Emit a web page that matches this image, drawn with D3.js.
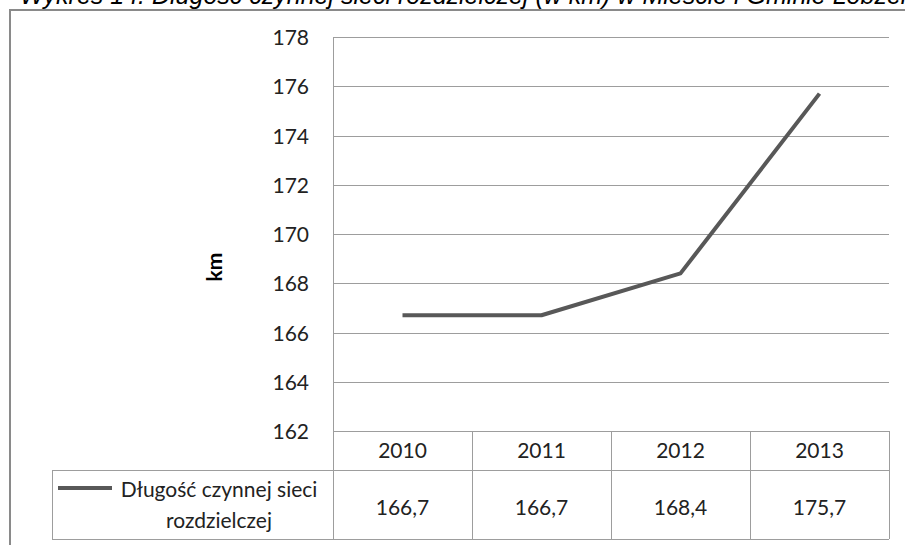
<!DOCTYPE html>
<html>
<head>
<meta charset="utf-8">
<script src="https://cdn.jsdelivr.net/npm/d3@7"></script>
<style>
  html, body { margin: 0; padding: 0; background: #fff; }
  svg { display: block; }
</style>
</head>
<body>
<svg id="chart" width="905" height="545"></svg>
<script>
const titleText = "Wykres 14. Długość czynnej sieci rozdzielczej (w km) w Mieście i Gminie Łobżenica";
const years = ["2010", "2011", "2012", "2013"];
const values = [166.7, 166.7, 168.4, 175.7];
const valueLabels = ["166,7", "166,7", "168,4", "175,7"];
const yTicks = [162, 164, 166, 168, 170, 172, 174, 176, 178];
const seriesName = ["Długość czynnej sieci", "rozdzielczej"];
const yTitle = "km";

const svg = d3.select("#chart");
const FONT = "Lato, 'Open Sans', sans-serif";
const gridColor = "#9d9d9d";
const lineColor = "#585858";

const plotLeft = 333, plotRight = 889, plotTop = 37, plotBottom = 431;
const headerBottom = 470, tableBottom = 539, legendLeft = 52;

const x = d3.scaleBand().domain(years).range([plotLeft, plotRight]);
const y = d3.scaleLinear().domain([162, 178]).range([plotBottom, plotTop]);

// outer frame (partially visible)
svg.append("path")
  .attr("d", `M10,545 V10 H905`)
  .attr("fill", "none").attr("stroke", "#8a8a8a").attr("stroke-width", 2);

// title (clipped at the top edge, as in the reference)
svg.append("text")
  .attr("x", 20).attr("y", 4)
  .attr("font-family", "'Liberation Sans', Arial, sans-serif")
  .attr("font-size", 25).attr("font-style", "italic")
  .attr("fill", "#000")
  .text(titleText);

// gridlines
const grid = svg.append("g").attr("transform", `translate(${plotLeft},0)`)
  .call(d3.axisLeft(y).tickValues(yTicks).tickSize(-(plotRight - plotLeft)).tickFormat(""));
grid.select(".domain").remove();
grid.selectAll(".tick line").attr("stroke", gridColor).attr("stroke-width", 1)
  .attr("shape-rendering", "crispEdges");

// y labels
const yAx = svg.append("g").attr("transform", `translate(${plotLeft},0)`)
  .call(d3.axisLeft(y).tickValues(yTicks).tickSize(0).tickPadding(24).tickFormat(d => d));
yAx.select(".domain").remove();
yAx.selectAll(".tick text").attr("font-family", FONT).attr("font-size", 21)
  .attr("fill", "#222").attr("dy", "0.36em");

// y axis line
svg.append("line")
  .attr("x1", plotLeft).attr("x2", plotLeft).attr("y1", plotTop).attr("y2", tableBottom)
  .attr("stroke", gridColor).attr("shape-rendering", "crispEdges");

// y title
svg.append("text")
  .attr("transform", `translate(222,267) rotate(-90)`)
  .attr("text-anchor", "middle")
  .attr("font-family", FONT).attr("font-size", 21).attr("font-weight", "bold")
  .attr("fill", "#000")
  .text(yTitle);

// table lines
const tbl = svg.append("g").attr("stroke", gridColor).attr("shape-rendering", "crispEdges");
tbl.append("line").attr("x1", legendLeft).attr("x2", plotRight).attr("y1", headerBottom).attr("y2", headerBottom);
tbl.append("line").attr("x1", legendLeft).attr("x2", plotRight).attr("y1", tableBottom).attr("y2", tableBottom);
tbl.append("line").attr("x1", legendLeft).attr("x2", legendLeft).attr("y1", headerBottom).attr("y2", tableBottom);
tbl.selectAll(".vdiv").data(years).enter().append("line")
  .attr("x1", d => x(d) + x.bandwidth()).attr("x2", d => x(d) + x.bandwidth())
  .attr("y1", plotBottom).attr("y2", tableBottom);

// header years
svg.selectAll(".yr").data(years).enter().append("text")
  .attr("x", d => x(d) + x.bandwidth() / 2).attr("y", (plotBottom + headerBottom) / 2)
  .attr("dy", "0.36em").attr("text-anchor", "middle")
  .attr("font-family", FONT).attr("font-size", 21).attr("fill", "#222")
  .text(d => d);

// values row
svg.selectAll(".val").data(years).enter().append("text")
  .attr("x", d => x(d) + x.bandwidth() / 2).attr("y", 507)
  .attr("dy", "0.36em").attr("text-anchor", "middle")
  .attr("font-family", FONT).attr("font-size", 21).attr("fill", "#222")
  .text((d, i) => valueLabels[i]);

// legend
svg.append("line").attr("x1", 58).attr("x2", 112).attr("y1", 488).attr("y2", 488)
  .attr("stroke", lineColor).attr("stroke-width", 4);
svg.selectAll(".leg").data(seriesName).enter().append("text")
  .attr("x", 219).attr("y", (d, i) => 497 + i * 31)
  .attr("text-anchor", "middle")
  .attr("font-family", FONT).attr("font-size", 21).attr("fill", "#222")
  .text(d => d);

// line
const line = d3.line()
  .x((d, i) => x(years[i]) + x.bandwidth() / 2)
  .y(d => y(d));
svg.append("path").datum(values)
  .attr("d", line)
  .attr("fill", "none").attr("stroke", lineColor).attr("stroke-width", 4)
  .attr("stroke-linejoin", "round");
</script>
</body>
</html>
